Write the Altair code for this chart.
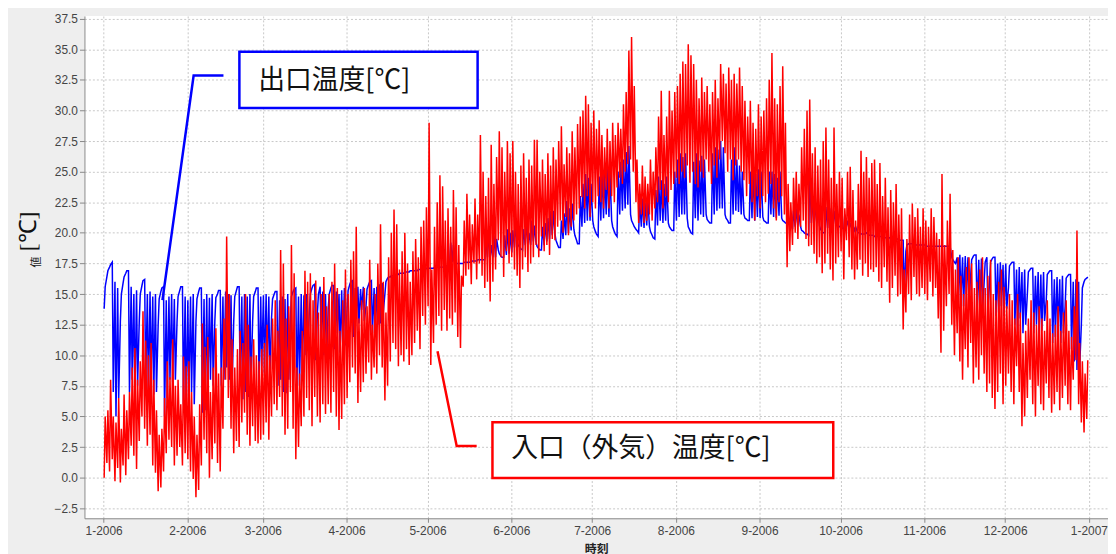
import altair as alt
import pandas as pd

# ---------------- data (two readings per day, 2006) ----------------
# red: inlet (outside air) temperature, early-morning low and afternoon high of each day
red_lo = [
    0.0,1.2,0.5,1.5,-0.3,0.8,-0.4,1.0,0.2,1.5,2.6,1.8,0.7,3.0,5.0,4.0,2.6,3.5,1.0,0.4,-1.1,-0.8,0.5,2.0,3.1,2.5,1.0,1.8,2.5,1.0,2.0,
    1.5,0.5,-0.1,-1.6,-1.0,1.0,3.1,2.0,0.0,1.5,2.8,1.2,0.5,4.0,8.0,6.5,4.0,2.0,3.0,2.5,4.5,5.3,3.5,2.6,4.2,3.0,2.8,3.1,
    3.5,4.5,3.1,5.0,6.0,5.5,6.6,5.0,3.5,4.0,7.0,4.0,1.5,2.5,4.2,5.0,6.5,5.5,4.2,6.6,5.0,4.5,6.0,5.2,6.0,5.3,7.0,5.0,3.9,4.8,6.0,
    6.5,7.8,9.0,8.5,6.1,7.0,7.8,8.5,9.4,8.0,9.0,8.5,10.0,9.0,6.3,7.5,9.5,11.0,10.5,9.1,10.0,9.5,10.5,9.2,10.0,11.0,12.0,10.5,13.2,12.5,
    14.0,9.2,11.0,12.5,13.2,12.0,13.7,12.0,13.0,12.5,13.5,11.5,10.6,15.6,16.5,17.0,15.8,17.5,16.2,17.5,16.5,15.5,16.0,14.4,16.0,17.0,19.4,18.0,16.4,18.5,17.5,
    18.0,17.0,16.5,15.5,17.0,18.0,16.8,17.5,18.0,19.0,18.0,19.7,18.5,19.0,18.2,19.5,19.4,20.5,21.0,20.0,21.3,19.8,20.5,21.0,21.5,22.0,22.9,22.0,23.0,21.3,
    22.5,22.0,23.0,22.5,22.0,23.5,22.0,23.0,22.5,23.7,24.5,24.0,25.0,25.6,26.0,25.0,22.5,20.8,21.5,20.8,21.0,21.5,21.0,22.0,22.5,23.5,22.0,23.0,22.5,23.5,24.0,
    24.5,24.0,25.0,24.5,25.5,24.1,25.0,24.0,23.7,25.0,24.5,26.0,25.0,24.0,25.5,24.5,26.0,27.5,26.5,25.0,26.0,24.3,25.5,26.0,25.0,24.3,23.0,24.0,22.5,21.0,23.0,
    22.0,23.0,22.5,23.2,24.0,22.0,21.0,22.5,23.0,21.5,17.2,18.5,19.0,20.0,19.5,20.5,21.0,19.5,18.9,19.0,18.3,17.5,18.0,16.7,17.5,18.3,17.0,16.1,17.5,18.0,
    18.5,16.2,19.4,18.0,17.0,16.2,17.0,17.8,16.5,17.5,16.4,17.0,16.8,17.2,16.0,15.5,17.2,16.0,14.3,15.5,16.5,14.8,15.0,12.1,13.5,15.0,14.5,16.4,15.0,14.8,15.5,
    15.0,14.5,16.0,14.8,15.5,13.0,10.2,12.0,14.0,15.0,12.5,10.0,11.8,9.5,8.0,10.5,9.0,11.0,7.7,9.0,8.0,10.0,8.5,7.0,7.7,6.5,5.6,7.0,8.5,6.0,
    7.5,8.5,7.0,6.0,9.1,7.0,4.2,5.0,6.5,8.0,6.0,5.0,7.5,6.0,5.5,7.7,6.5,5.3,6.0,7.0,5.5,6.5,7.5,6.0,5.5,8.0,9.6,6.0,4.5,3.7,4.8,
]
red_hi = [
    5.0,5.5,8.0,5.0,4.5,6.5,4.0,6.8,5.5,7.0,9.0,10.6,8.0,9.5,13.6,11.2,10.0,11.0,8.0,5.5,3.5,4.0,6.5,9.5,8.2,11.3,7.5,8.0,6.0,9.9,9.1,
    9.5,7.0,5.0,3.5,6.0,12.6,10.7,11.5,7.0,9.0,12.2,8.5,9.0,13.0,19.7,15.0,11.3,9.0,10.5,12.0,11.0,15.0,12.5,9.9,11.3,10.0,9.5,10.5,
    11.0,12.5,10.0,13.0,14.5,12.0,18.6,17.5,13.0,14.0,19.0,16.7,9.0,8.5,12.0,16.9,16.0,16.7,14.5,16.1,13.5,15.0,16.4,14.0,15.0,16.0,17.5,15.5,12.0,14.5,17.0,
    15.0,17.8,18.5,20.5,13.0,14.5,15.5,14.0,17.8,12.5,15.0,17.5,20.7,16.0,13.5,18.0,20.0,21.9,20.7,17.0,18.5,20.0,17.5,16.0,18.5,19.5,18.0,20.5,21.0,22.1,
    29.0,17.0,20.5,22.5,24.7,23.8,21.0,22.0,20.5,23.5,22.1,19.0,16.5,21.0,23.2,21.5,20.7,22.8,21.5,28.0,25.0,23.0,24.5,27.2,24.0,26.2,28.3,27.0,25.0,27.5,26.5,
    27.5,25.0,24.0,25.5,26.5,24.5,26.0,25.5,27.6,27.6,25.0,26.0,24.8,26.5,25.5,27.0,26.0,27.5,28.7,25.6,27.0,26.5,28.3,27.0,28.9,29.5,30.0,31.2,30.5,29.0,
    30.0,28.5,29.2,28.0,27.0,28.5,27.5,29.0,28.0,29.0,28.5,30.5,31.5,34.9,36.0,32.0,26.0,24.0,25.5,24.6,24.0,26.0,25.0,27.0,29.5,31.6,28.0,29.5,31.6,30.0,31.5,
    32.0,33.0,34.0,33.8,35.4,34.5,33.8,32.5,31.0,32.7,31.5,32.0,30.5,31.5,32.5,31.0,33.8,33.0,32.2,33.5,32.5,33.0,32.2,33.5,32.0,30.8,29.5,30.8,29.0,28.5,30.5,
    29.5,30.0,31.0,32.5,34.7,31.0,30.5,32.0,33.6,29.0,24.0,22.5,24.5,25.0,24.0,27.0,28.5,30.0,30.9,26.5,27.0,25.5,26.0,27.5,28.6,26.0,24.5,28.6,24.0,25.0,
    24.5,22.0,25.0,25.4,23.5,21.0,24.0,26.7,25.0,26.2,24.5,25.7,26.0,24.0,25.7,23.0,24.5,22.1,23.5,22.5,24.0,21.5,22.0,17.0,19.5,21.5,22.4,21.3,22.0,20.5,22.0,
    21.0,20.5,22.0,21.3,20.0,19.5,24.8,19.0,21.0,23.2,18.6,17.0,18.0,16.5,15.0,17.2,18.0,17.5,15.5,16.0,17.0,18.0,15.5,16.5,17.8,15.0,14.5,16.0,17.0,15.6,
    14.0,15.0,14.5,13.0,15.0,13.5,11.0,12.0,13.0,14.5,13.5,12.5,14.0,13.0,12.0,14.5,13.0,11.8,12.5,14.0,12.0,13.5,14.5,12.0,11.5,14.0,20.2,11.0,9.5,8.5,9.6,
]
# blue: outlet temperature, early-morning and afternoon reading of each day
blue_a = [
    13.8,16.4,17.2,17.6,16.0,15.5,12.8,15.9,16.7,16.9,15.6,15.0,15.3,12.8,15.7,16.2,15.0,15.2,14.8,15.0,12.5,15.2,15.6,14.5,14.8,15.0,14.6,12.8,15.3,15.6,14.8,
    14.5,14.8,15.0,12.8,15.2,15.5,14.6,15.0,14.7,15.0,12.8,15.0,15.3,14.8,15.2,15.0,14.9,12.8,15.3,15.6,14.8,15.0,14.8,15.0,12.8,15.2,15.5,14.8,
    14.9,15.0,14.8,13.0,15.0,15.2,14.5,14.8,14.6,15.0,13.0,15.2,15.5,14.8,15.0,14.9,15.0,13.5,15.5,15.8,13.5,15.6,15.2,15.0,13.8,15.5,15.7,15.2,15.0,15.3,15.5,
    13.8,15.8,16.1,15.5,15.6,15.4,15.6,14.0,15.8,16.1,15.5,15.6,15.8,15.9,15.0,16.3,16.4,16.5,16.6,16.6,16.7,16.7,16.8,16.8,16.9,16.9,16.9,17.0,17.0,17.0,
    17.1,17.1,17.1,17.2,17.2,17.2,17.2,17.3,17.3,17.6,17.5,17.5,17.5,17.5,17.6,17.6,17.6,17.7,17.7,17.8,17.8,17.8,18.0,17.9,18.0,18.0,18.6,18.1,18.0,18.2,18.3,
    18.4,18.8,19.3,18.8,18.6,19.0,19.2,19.0,19.3,19.2,18.7,18.6,19.0,19.3,19.5,19.8,19.9,19.0,18.8,19.5,19.8,20.0,20.2,20.3,19.4,19.1,20.5,20.8,21.0,21.0,
    21.0,20.1,19.7,21.0,21.2,21.5,21.3,21.0,20.1,19.7,21.5,21.8,22.0,22.3,21.5,20.7,20.3,20.0,20.5,20.4,20.6,20.5,19.8,19.5,20.6,21.0,20.8,21.0,20.8,20.3,20.2,
    21.0,21.3,21.5,21.5,21.2,20.2,19.9,21.2,21.0,21.5,21.3,21.5,20.9,20.8,21.5,21.8,22.0,22.0,21.5,21.0,20.8,21.5,21.8,21.7,21.5,21.5,21.1,21.0,21.2,21.0,21.3,
    21.2,21.3,20.9,20.8,21.5,21.3,21.2,21.4,21.2,20.9,20.8,20.5,20.3,20.5,20.6,20.5,20.1,19.9,19.8,20.8,20.6,20.8,20.6,20.1,20.0,20.4,20.5,20.6,20.7,20.6,
    20.5,20.3,20.5,20.4,20.3,20.2,20.1,20.0,19.9,19.9,19.9,19.8,19.8,19.7,19.7,19.7,19.6,19.6,19.6,19.5,19.5,19.5,19.4,19.4,18.5,19.1,19.1,19.1,19.0,19.0,19.0,
    19.0,18.9,18.9,18.9,18.9,18.9,18.9,18.9,18.9,18.9,18.0,17.6,18.0,18.2,18.0,18.1,18.0,16.5,18.1,18.2,17.8,17.9,16.0,18.0,16.0,17.9,18.0,17.5,17.6,17.4,
    17.5,15.5,17.5,17.6,17.0,17.2,16.8,17.0,15.0,17.0,17.1,16.5,16.8,16.6,16.8,14.5,16.8,16.9,16.2,16.4,16.2,16.5,14.0,16.5,16.6,16.0,16.2,16.0,12.5,16.0,16.3,
]
blue_b = [
    15.6,16.9,17.4,7.0,5.0,6.5,15.0,16.4,16.9,7.0,8.0,6.4,7.5,15.0,16.1,7.5,6.6,7.5,6.8,7.0,14.6,15.5,5.0,6.5,8.0,7.8,8.0,14.8,15.6,6.0,5.3,
    6.5,7.0,6.0,14.6,15.5,5.3,5.5,7.0,8.0,7.5,14.7,15.3,7.5,8.0,9.0,8.0,7.5,14.8,15.6,7.5,6.4,7.0,6.6,7.5,14.8,15.5,7.5,9.1,
    8.5,9.1,8.0,14.6,15.2,7.5,8.0,7.0,6.9,8.0,14.8,15.4,7.0,7.5,8.5,10.0,10.5,15.0,15.7,9.6,15.0,11.2,10.0,9.6,15.0,15.7,10.5,11.8,10.2,11.0,10.8,
    15.3,16.0,11.5,13.0,12.6,13.7,12.8,15.4,16.0,11.8,11.8,12.5,12.6,13.5,16.0,16.4,16.5,16.5,16.6,16.7,16.7,16.8,16.8,16.9,16.9,16.9,17.0,17.0,17.0,17.1,
    17.1,17.1,17.2,17.2,17.2,17.2,17.3,17.3,19.2,19.0,17.5,17.5,17.5,17.6,17.6,17.6,17.7,17.7,17.8,17.8,17.8,19.5,20.2,19.0,19.8,19.5,18.3,18.0,19.8,20.3,20.0,
    20.2,20.5,19.0,18.7,20.3,20.8,20.0,21.0,20.6,18.9,18.6,20.5,20.8,21.2,21.8,21.8,19.4,18.8,21.0,21.6,22.6,22.0,22.4,19.8,19.1,23.0,24.0,24.8,24.5,24.0,
    20.5,19.9,24.6,25.3,24.8,25.6,25.0,20.5,19.9,25.0,25.8,26.0,26.6,27.1,21.0,20.5,20.2,22.5,22.8,22.5,23.0,20.1,19.6,23.5,24.6,24.3,24.0,24.6,20.5,20.2,25.0,
    26.0,26.5,26.2,26.5,20.5,20.0,25.8,26.5,25.9,26.3,26.0,21.1,20.8,26.5,27.0,26.8,27.5,27.0,21.2,20.8,26.0,27.0,26.0,25.5,25.0,21.2,21.0,25.0,25.4,24.8,25.2,
    25.0,21.0,20.8,25.0,25.0,24.8,24.5,25.0,21.0,20.8,21.5,21.0,21.8,22.0,21.5,20.2,20.0,19.9,25.0,23.0,22.5,22.8,20.3,20.0,22.1,21.8,22.0,21.8,21.9,20.5,
    20.4,21.5,21.0,20.8,20.6,20.5,20.0,19.9,19.9,20.0,19.8,19.8,19.7,19.7,19.7,19.6,19.6,19.6,19.5,19.5,19.5,19.4,19.4,14.8,19.0,19.1,19.1,19.0,19.0,19.0,19.0,
    18.9,18.9,18.9,18.9,18.9,18.9,18.9,18.9,18.9,18.9,17.8,17.5,14.0,14.5,14.0,15.0,14.2,17.8,18.2,13.4,14.0,13.5,17.6,13.5,17.6,18.0,13.2,13.5,14.0,13.2,
    13.8,17.3,17.6,12.5,11.8,13.0,11.8,12.5,16.8,17.1,11.8,12.5,11.5,12.0,12.8,16.6,16.9,11.0,11.5,12.0,11.0,11.8,16.3,16.6,10.5,9.5,8.8,9.0,15.5,16.2,16.4,
]
# y-axis tick labels and x-axis month ticks
y_ticks = [-2.5, 0.0, 2.5, 5.0, 7.5, 10.0, 12.5, 15.0, 17.5, 20.0, 22.5, 25.0, 27.5, 30.0, 32.5, 35.0, 37.5]
tick_months = [(2006, m) for m in range(1, 13)] + [(2007, 1)]

# annotation texts and their anchor positions (day of 2006, value)
blue_label = "出口温度[℃]"
red_label = "入口（外気）温度[℃]"
blue_box = {"d1": 50.3, "d2": 138.55, "v1": 30.2, "v2": 34.8}
red_box = {"d1": 144.05, "d2": 270.3, "v1": -0.02, "v2": 4.52}
blue_leader_d = [44.4, 33.35, 21.8]
blue_leader_v = [32.85, 32.85, 14.5]
red_leader_d = [138.2, 130.8, 123.7]
red_leader_v = [2.58, 2.58, 10.33]

# ---------------- build tables ----------------
start = pd.Timestamp("2006-01-01")


def ts(day):
    return (start + pd.Timedelta(days=day)).strftime("%Y-%m-%dT%H:%M:%S")


red_rows, blue_rows = [], []
for i in range(365):
    red_rows.append({"t": ts(i + 5 / 24), "v": red_lo[i]})
    red_rows.append({"t": ts(i + 14 / 24), "v": red_hi[i]})
    blue_rows.append({"t": ts(i + 5 / 24), "v": blue_a[i]})
    blue_rows.append({"t": ts(i + 14 / 24), "v": blue_b[i]})
red_df = pd.DataFrame(red_rows)
blue_df = pd.DataFrame(blue_rows)

box_df = pd.DataFrame([
    {"t": ts(blue_box["d1"]), "t2": ts(blue_box["d2"]), "v": blue_box["v1"], "v2": blue_box["v2"], "c": "blue"},
    {"t": ts(red_box["d1"]), "t2": ts(red_box["d2"]), "v": red_box["v1"], "v2": red_box["v2"], "c": "red"},
])
lead_df = pd.DataFrame(
    [{"t": ts(d), "v": v, "o": k, "c": "blue"} for k, (d, v) in enumerate(zip(blue_leader_d, blue_leader_v))]
    + [{"t": ts(d), "v": v, "o": k, "c": "red"} for k, (d, v) in enumerate(zip(red_leader_d, red_leader_v))]
)
text_df = pd.DataFrame([
    {"t": ts(57.25), "v": 32.42, "label": blue_label},
    {"t": ts(151.0), "v": 2.33, "label": red_label},
])

# ---------------- scales / axes ----------------
X_DOMAIN = [alt.DateTime(year=2005, month=12, date=24, hours=21, minutes=36),
            alt.DateTime(year=2007, month=1, date=8, hours=2, minutes=0)]
x_axis = alt.Axis(
    values=[alt.DateTime(year=y, month=m, date=1) for y, m in tick_months],
    format="%-m-%Y", labelFont="Liberation Sans", labelFontSize=12, labelColor="#444444",
    labelPadding=3, labelOverlap=False, labelFlush=False,
    tickColor="#888888", tickSize=4, domainColor="#888888",
    gridColor="#c8c8c8", gridDash=[2, 2], gridWidth=1,
    title="時刻", titleFont="Noto Sans CJK JP", titleFontSize=12, titleFontWeight="bold",
    titleColor="#222222", titlePadding=7,
)
y_axis = alt.Axis(
    values=y_ticks, format=".1f", labelFont="Liberation Sans", labelFontSize=12,
    labelColor="#444444", labelPadding=2, tickColor="#888888", tickSize=5,
    domainColor="#888888", gridColor="#c8c8c8", gridDash=[2, 2], gridWidth=1, title=None,
)
x_scale = alt.Scale(domain=X_DOMAIN, nice=False)
y_scale = alt.Scale(domain=[-3.32, 37.72], nice=False, zero=False)


def X(f="t"):
    return alt.X(f"{f}:T", scale=x_scale, axis=x_axis)


def Y(f="v"):
    return alt.Y(f"{f}:Q", scale=y_scale, axis=y_axis)


blue_line = alt.Chart(blue_df).mark_line(color="#0000ff", strokeWidth=1.5).encode(x=X(), y=Y())
red_line = alt.Chart(red_df).mark_line(color="#ff0000", strokeWidth=1.5).encode(x=X(), y=Y())

color_scale = alt.Scale(domain=["blue", "red"], range=["#0000ff", "#ff0000"])
boxes = alt.Chart(box_df).mark_rect(fill="white", strokeWidth=2.5).encode(
    x=X(), x2="t2:T", y=Y(), y2="v2:Q",
    stroke=alt.Stroke("c:N", scale=color_scale, legend=None),
)
leaders = alt.Chart(lead_df).mark_line(strokeWidth=2.5).encode(
    x=X(), y=Y(), order="o:Q",
    color=alt.Color("c:N", scale=color_scale, legend=None),
)
texts = alt.Chart(text_df).mark_text(
    align="left", baseline="middle", font="Noto Sans CJK JP", fontSize=27, color="#111111"
).encode(x=X(), y=Y(), text="label:N")

ytitle_a = alt.Chart(pd.DataFrame({"s": ["値"]})).mark_text(
    angle=270, align="center", baseline="middle", font="Noto Sans CJK JP", fontSize=11, color="#222222"
).encode(x=alt.value(-48), y=alt.value(248), text="s:N")
ytitle_b = alt.Chart(pd.DataFrame({"s": ["[℃]"]})).mark_text(
    angle=270, align="center", baseline="middle", font="Liberation Serif", fontSize=24, color="#111111"
).encode(x=alt.value(-56), y=alt.value(217), text="s:N")

chart = alt.layer(blue_line, red_line, leaders, boxes, texts, ytitle_a, ytitle_b).properties(
    width=1031, height=506,
    autosize=alt.AutoSizeParams(type="none"),
    padding={"left": 77, "top": 6, "right": 0, "bottom": 40},
    background="#eeeeee",
).configure_view(fill="white", strokeWidth=0)

chart.save("out.html", embed_options={"renderer": "svg", "actions": False})
